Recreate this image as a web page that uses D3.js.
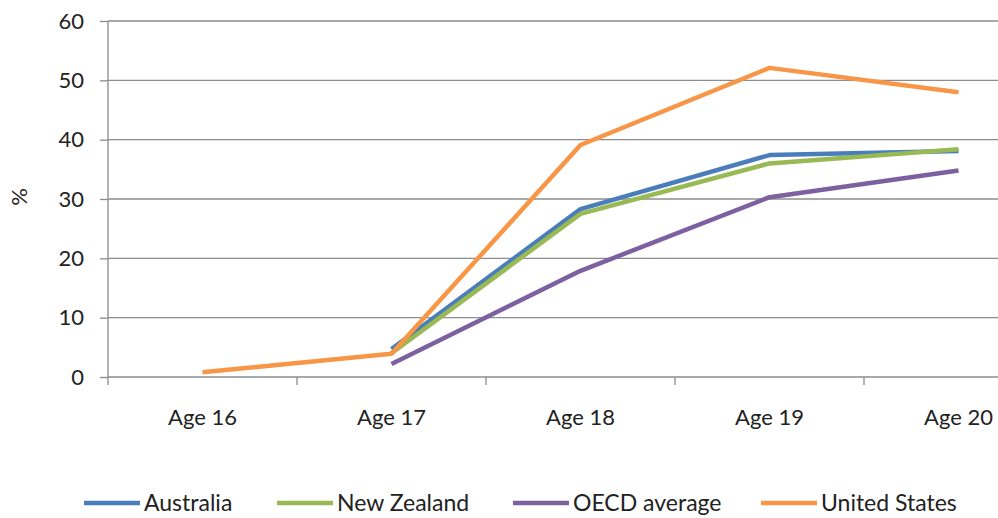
<!DOCTYPE html>
<html><head><meta charset="utf-8">
<script src="https://cdn.jsdelivr.net/npm/d3@7"></script>
<style>body{margin:0;background:#fff}svg{display:block}</style>
</head><body>
<svg id="c" width="998" height="518"></svg>
<script>
const categories = ["Age 16","Age 17","Age 18","Age 19","Age 20"];
const seriesNames = ["Australia","New Zealand","OECD average","United States"];
const australia = [null, 4.7, 28.3, 37.4, 38.1];
const newZealand = [null, 4.0, 27.5, 36.0, 38.4];
const oecdAverage = [null, 2.2, 17.9, 30.3, 34.8];
const unitedStates = [0.8, 3.9, 39.1, 52.1, 48.0];
const yTicks = [0,10,20,30,40,50,60];
const colors = ["#4A7EBB","#98B954","#7D60A0","#F79646"];
const seriesValues = [australia, newZealand, oecdAverage, unitedStates];

const svg = d3.select("#c");
const font = "Lato, 'Open Sans', sans-serif";
const x = d3.scaleBand().domain(categories).range([108, 1053]);
const y = d3.scaleLinear().domain([0,60]).range([377, 21]);

// gridlines
svg.append("g").selectAll("line").data(yTicks.filter(d=>d>0)).join("line")
  .attr("x1",108).attr("x2",998).attr("y1",d=>y(d)).attr("y2",d=>y(d))
  .attr("stroke","#8c8c8c").attr("stroke-width",1.3);

// y axis
const ya = svg.append("g").attr("transform","translate(108,0)")
  .call(d3.axisLeft(y).tickValues(yTicks).tickSize(8).tickPadding(16));
ya.select(".domain").attr("stroke","#8c8c8c").attr("stroke-width",1.3).attr("d","M0,21V377");
ya.selectAll(".tick line").attr("stroke","#8c8c8c").attr("stroke-width",1.3);
ya.selectAll("text").attr("font-family",font).attr("font-size",22).attr("fill","#222");

// x axis
svg.append("line").attr("x1",108).attr("x2",998).attr("y1",y(0)).attr("y2",y(0))
  .attr("stroke","#8c8c8c").attr("stroke-width",1.3);
const bounds = categories.map(c=>x(c)).concat([x(categories[categories.length-1])+x.bandwidth()]);
svg.append("g").selectAll("line").data(bounds.filter(b=>b<=998)).join("line")
  .attr("x1",d=>d).attr("x2",d=>d).attr("y1",y(0)).attr("y2",y(0)+8)
  .attr("stroke","#8c8c8c").attr("stroke-width",1.3);
svg.append("g").selectAll("text").data(categories).join("text")
  .attr("x",d=>x(d)+x.bandwidth()/2).attr("y",425)
  .attr("text-anchor","middle").attr("font-family",font).attr("font-size",22).attr("fill","#222")
  .text(d=>d);

// y title
svg.append("text").attr("transform","translate(27,197) rotate(-90)")
  .attr("text-anchor","middle").attr("font-family",font).attr("font-size",22).attr("fill","#222").text("%");

// lines
const line = d3.line().defined(d=>d.v!=null).x(d=>x(d.c)+x.bandwidth()/2).y(d=>y(d.v));
seriesValues.forEach((vals,i)=>{
  svg.append("path").datum(categories.map((c,j)=>({c, v: vals[j]})))
    .attr("d", line).attr("fill","none").attr("stroke",colors[i])
    .attr("stroke-width",4.5).attr("stroke-linejoin","round");
});

// legend
const legX = [84, 277, 513, 761];
const lg = svg.append("g").selectAll("g").data(seriesNames).join("g")
  .attr("transform",(d,i)=>`translate(${legX[i]},503)`);
lg.append("line").attr("x1",0).attr("x2",56).attr("stroke",(d,i)=>colors[i]).attr("stroke-width",4.5);
lg.append("text").attr("x",60).attr("y",8).attr("font-family",font).attr("font-size",23).attr("fill","#222").text(d=>d);
</script>
</body></html>
